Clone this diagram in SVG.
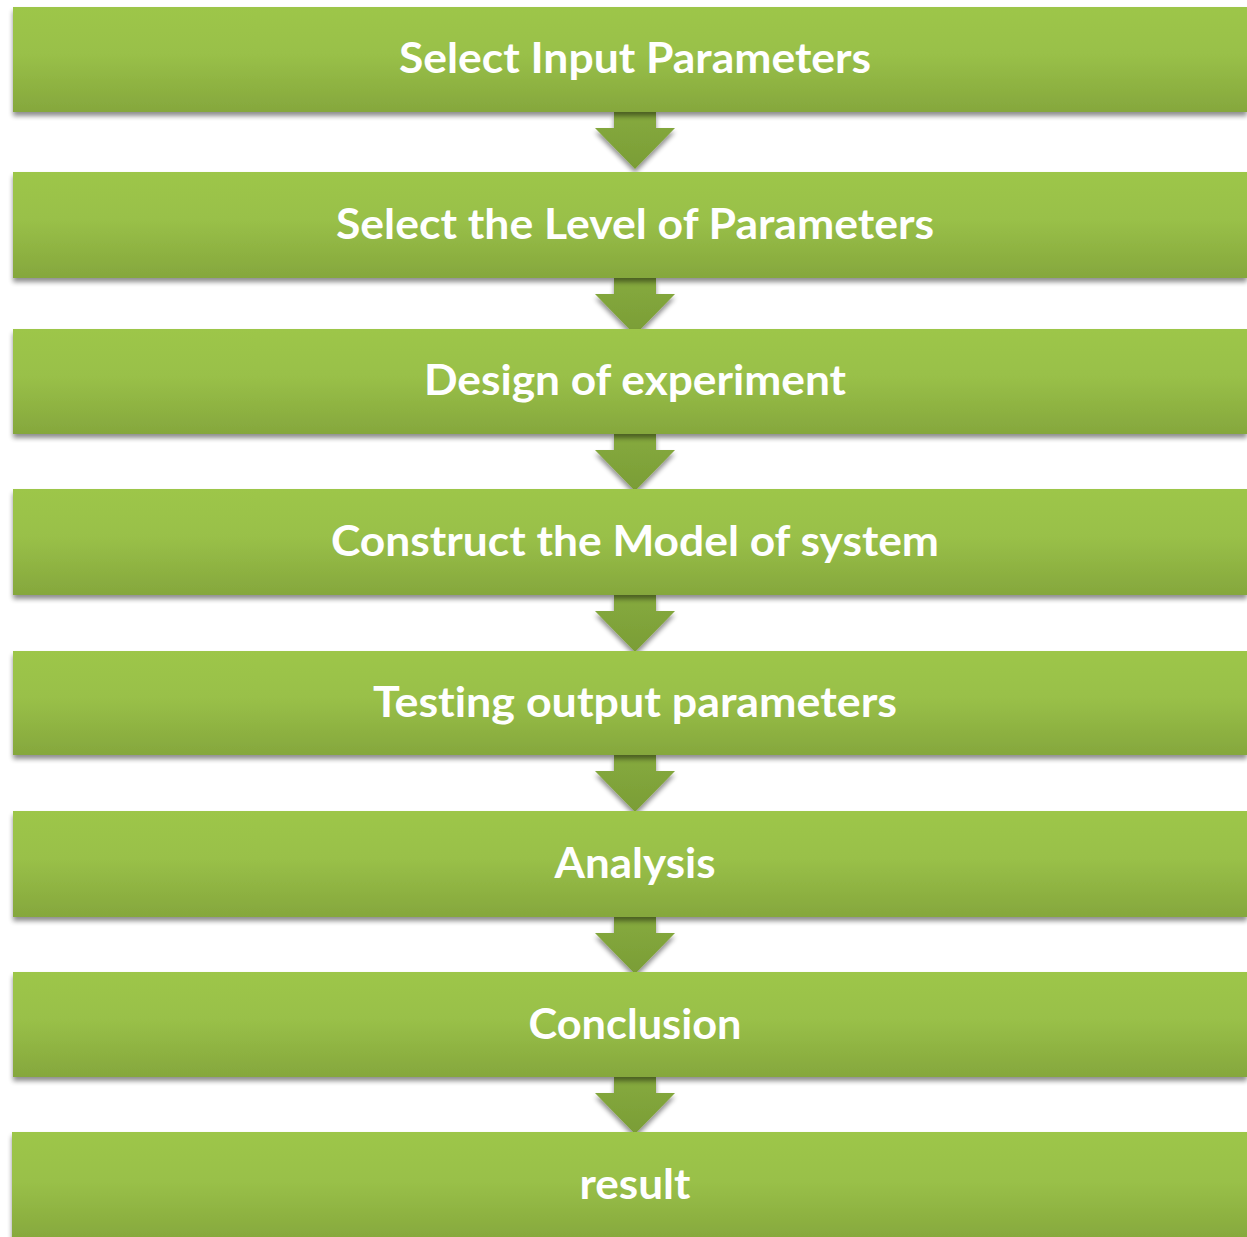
<svg xmlns="http://www.w3.org/2000/svg" width="1247" height="1237" viewBox="0 0 1247 1237">
  <defs>
    <linearGradient id="boxFill" x1="0" y1="0" x2="0" y2="1">
      <stop offset="0" stop-color="#9dc64a"/>
      <stop offset="0.45" stop-color="#99c048"/>
      <stop offset="1" stop-color="#85a73d"/>
    </linearGradient>
    <linearGradient id="arrowFill" x1="0" y1="0" x2="0" y2="1">
      <stop offset="0" stop-color="#86aa3e"/>
      <stop offset="1" stop-color="#7a9d36"/>
    </linearGradient>
    <filter id="shadow" x="-5%" y="-20%" width="110%" height="150%">
      <feGaussianBlur in="SourceAlpha" stdDeviation="2.5"/>
      <feOffset dx="0" dy="4" result="blur"/>
      <feComponentTransfer><feFuncA type="linear" slope="0.45"/></feComponentTransfer>
      <feMerge><feMergeNode/><feMergeNode in="SourceGraphic"/></feMerge>
    </filter>
    <path id="downArrow" d="M-21,0 H21 V16 H40 L0,57 L-40,16 H-21 Z"/>
  </defs>
  <style>
    .box { fill: url(#boxFill); filter: url(#shadow); }
    .arrow { fill: url(#arrowFill); filter: url(#shadow); }
    .label { font-family: "Lato", "Open Sans", "Liberation Sans", sans-serif; font-weight: bold; font-size: 42px; fill: #ffffff; text-anchor: middle; font-variant-ligatures: none; }
  </style>
  <rect width="1247" height="1237" fill="#ffffff"/>

  <!-- connectors: block arrows between steps -->
  <g id="connectors">
    <use href="#downArrow" class="arrow" x="635" y="112"/>
    <use href="#downArrow" class="arrow" x="635" y="278"/>
    <use href="#downArrow" class="arrow" x="635" y="434"/>
    <use href="#downArrow" class="arrow" x="635" y="595"/>
    <use href="#downArrow" class="arrow" x="635" y="755"/>
    <use href="#downArrow" class="arrow" x="635" y="917"/>
    <use href="#downArrow" class="arrow" x="635" y="1077"/>
  </g>

  <g id="step1">
    <rect class="box" x="13" y="7" width="1234" height="105"/>
    <text class="label" x="635" y="73" textLength="472" lengthAdjust="spacingAndGlyphs">Select Input Parameters</text>
  </g>
  <g id="step2">
    <rect class="box" x="13" y="172" width="1234" height="106"/>
    <text class="label" x="635" y="239" textLength="598" lengthAdjust="spacingAndGlyphs">Select the Level of Parameters</text>
  </g>
  <g id="step3">
    <rect class="box" x="13" y="329" width="1234" height="105"/>
    <text class="label" x="635" y="395" textLength="422" lengthAdjust="spacingAndGlyphs">Design of experiment</text>
  </g>
  <g id="step4">
    <rect class="box" x="13" y="489" width="1234" height="106"/>
    <text class="label" x="635" y="556" textLength="608" lengthAdjust="spacingAndGlyphs">Construct the Model of system</text>
  </g>
  <g id="step5">
    <rect class="box" x="13" y="651" width="1234" height="104"/>
    <text class="label" x="635" y="717" textLength="524" lengthAdjust="spacingAndGlyphs">Testing output parameters</text>
  </g>
  <g id="step6">
    <rect class="box" x="13" y="811" width="1234" height="106"/>
    <text class="label" x="635" y="878" textLength="161" lengthAdjust="spacingAndGlyphs">Analysis</text>
  </g>
  <g id="step7">
    <rect class="box" x="13" y="972" width="1234" height="105"/>
    <text class="label" x="635" y="1039" textLength="213" lengthAdjust="spacingAndGlyphs">Conclusion</text>
  </g>
  <g id="step8">
    <rect class="box" x="12" y="1132" width="1235" height="110"/>
    <text class="label" x="635" y="1199" textLength="111" lengthAdjust="spacingAndGlyphs">result</text>
  </g>
</svg>
